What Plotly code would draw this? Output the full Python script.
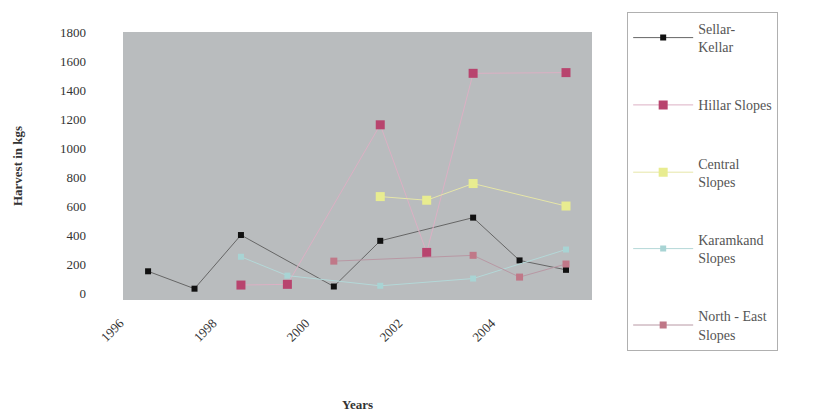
import plotly.graph_objects as go

years = [1996, 1997, 1998, 1999, 2000, 2001, 2002, 2003, 2004, 2005]
tick_years = [1996, 1998, 2000, 2002, 2004]
sellar_kellar = [150, 30, 400, None, 45, 360, None, 520, 225, 160]
hillar_slopes = [None, None, 55, 60, None, 1160, 280, 1515, None, 1520]
central_slopes = [None, None, None, None, None, 665, 640, 755, None, 600]
karamkand_slopes = [None, None, 250, 120, None, 50, None, 100, None, 300]
north_east_slopes = [None, None, None, None, 220, None, None, 260, 110, 200]

names = ["Sellar-<br>Kellar", "Hillar Slopes", "Central<br>Slopes",
         "Karamkand<br>Slopes", "North - East<br>Slopes"]
series = [sellar_kellar, hillar_slopes, central_slopes, karamkand_slopes, north_east_slopes]
line_colors = ["#666666", "#dcb0c4", "#e6e6a8", "#b4d8d8", "#b898a4"]
marker_colors = ["#111111", "#b8446e", "#e8ec90", "#a8d4d4", "#c07888"]
marker_sizes = [6, 9, 9, 6, 7]

fig = go.Figure()
for i, (nm, ys) in enumerate(zip(names, series)):
    fig.add_trace(go.Scatter(
        x=years, y=ys, name=nm, mode="lines+markers", connectgaps=True,
        legendgroup=f"g{i}",
        line=dict(color=line_colors[i], width=1),
        marker=dict(symbol="square", size=marker_sizes[i], color=marker_colors[i],
                    line=dict(width=0)),
    ))

fig.update_layout(
    width=824, height=418,
    margin=dict(l=123, r=232, t=30, b=118),
    paper_bgcolor="white",
    plot_bgcolor="#b9bcbe",
    font=dict(family="Liberation Serif", size=13, color="#333333"),
    showlegend=True,
    legend=dict(
        x=1.075, xanchor="left", y=1.075, yanchor="top",
        bordercolor="#b0b0b0", borderwidth=1, bgcolor="white",
        tracegroupgap=37, itemwidth=60, maxheight=400,
        font=dict(family="Liberation Serif", size=14, color="#555555"),
    ),
    xaxis=dict(
        range=[1995.46, 2005.56], tickvals=tick_years,
        ticktext=[str(t) for t in tick_years], tickangle=-45,
        showgrid=False, zeroline=False, showline=False, ticks="",
        ticklabelshift=-28, ticklabelstandoff=12, automargin=False,
        tickfont=dict(family="Liberation Serif", size=13, color="#333333"),
        title=dict(text="<b>Years</b>", standoff=56,
                   font=dict(family="Liberation Serif", size=13, color="#333333")),
    ),
    yaxis=dict(
        range=[-48, 1800], tickvals=list(range(0, 1801, 200)),
        showgrid=False, zeroline=False, showline=False, ticks="",
        ticklabelstandoff=36, automargin=False,
        tickfont=dict(family="Liberation Serif", size=13, color="#333333"),
        title=dict(text="<b>Harvest in kgs</b>", standoff=34,
                   font=dict(family="Liberation Serif", size=13, color="#333333")),
    ),
)

fig.write_html("out.html")
